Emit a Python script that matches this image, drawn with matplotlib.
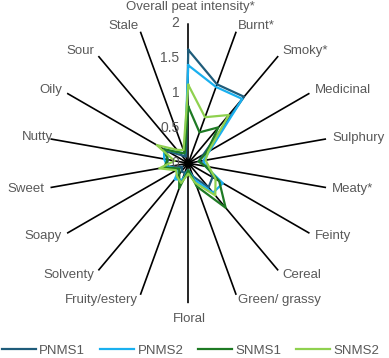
import numpy as np
import matplotlib.pyplot as plt

plt.rcParams['font.family'] = ['Liberation Sans', 'DejaVu Sans']

categories = ["Overall peat intensity*", "Burnt*", "Smoky*", "Medicinal", "Sulphury",
              "Meaty*", "Feinty", "Cereal", "Green/ grassy", "Floral", "Fruity/estery",
              "Solventy", "Soapy", "Sweet", "Nutty", "Oily", "Sour", "Stale"]

pnms1 = [1.62, 1.20, 1.24, 0.25, 0.15, 0.30, 0.40, 0.45, 0.20, 0.10, 0.15, 0.15, 0.10, 0.30, 0.30, 0.35, 0.15, 0.10]
pnms2 = [1.40, 1.16, 1.20, 0.35, 0.22, 0.25, 0.57, 0.55, 0.25, 0.10, 0.25, 0.30, 0.15, 0.30, 0.35, 0.40, 0.20, 0.15]
snms1 = [0.81, 0.47, 0.67, 0.30, 0.15, 0.25, 0.51, 0.83, 0.35, 0.10, 0.38, 0.20, 0.15, 0.35, 0.30, 0.40, 0.20, 0.15]
snms2 = [1.12, 0.70, 0.90, 0.33, 0.25, 0.30, 0.45, 0.60, 0.30, 0.15, 0.30, 0.25, 0.20, 0.42, 0.20, 0.52, 0.25, 0.20]

series = {"PNMS1": (pnms1, "#1f5c7a"),
          "PNMS2": (pnms2, "#1ab0ef"),
          "SNMS1": (snms1, "#1e7a24"),
          "SNMS2": (snms2, "#8fd14f")}

rticks = [0, 0.5, 1, 1.5, 2]
grey = "#595959"

n = len(categories)
angles = np.arange(n) * 2 * np.pi / n

fig = plt.figure(figsize=(3.89, 3.58), dpi=100)
ax = fig.add_axes([0.124, 0.153, 0.72, 0.782], projection='polar')
ax.set_theta_zero_location('N')
ax.set_theta_direction(-1)
ax.set_ylim(0, 2)

for name, (vals, col) in series.items():
    v = vals + vals[:1]
    a = list(angles) + [angles[0]]
    ax.plot(a, v, color=col, lw=1.6, label=name, zorder=3)

# centre blob where the spokes meet
ax.plot([0], [0], 'o', color='black', ms=5, zorder=4)

# spokes
ax.set_xticks(angles)
ax.set_xticklabels([])
ax.xaxis.grid(True, color='black', lw=1.2)
ax.yaxis.grid(False)
ax.set_yticks([])
ax.spines['polar'].set_visible(False)
ax.set_facecolor('none')

# radial tick labels along the top spoke
for r in rticks:
    ax.annotate(f"{r:g}", xy=(0, r), xytext=(-9, 0), textcoords='offset pixels',
                ha='right', va='center', fontsize=10, color=grey)

# category labels
for ang, lab in zip(angles, categories):
    deg = np.degrees(ang)
    if np.isclose(deg, 0):
        off, ha, va = (2, 16), 'center', 'center'
    elif np.isclose(deg, 180):
        off, ha, va = (1, -16), 'center', 'center'
    else:
        off = (6 * np.sin(ang), 6 * np.cos(ang))
        ha = 'left' if deg < 180 else 'right'
        va = 'center'
        if lab == "Nutty":
            off = (3, 2)
    ax.annotate(lab, xy=(ang, 2), xytext=off, textcoords='offset pixels',
                ha=ha, va=va, fontsize=9.5, color=grey, annotation_clip=False)

fig.legend(loc='lower center', bbox_to_anchor=(0.49, -0.03), ncol=4, frameon=False,
           fontsize=9.5, handlelength=2.6, handletextpad=0.25, columnspacing=1.1,
           labelcolor=grey)

plt.savefig('out.png', dpi=100)
